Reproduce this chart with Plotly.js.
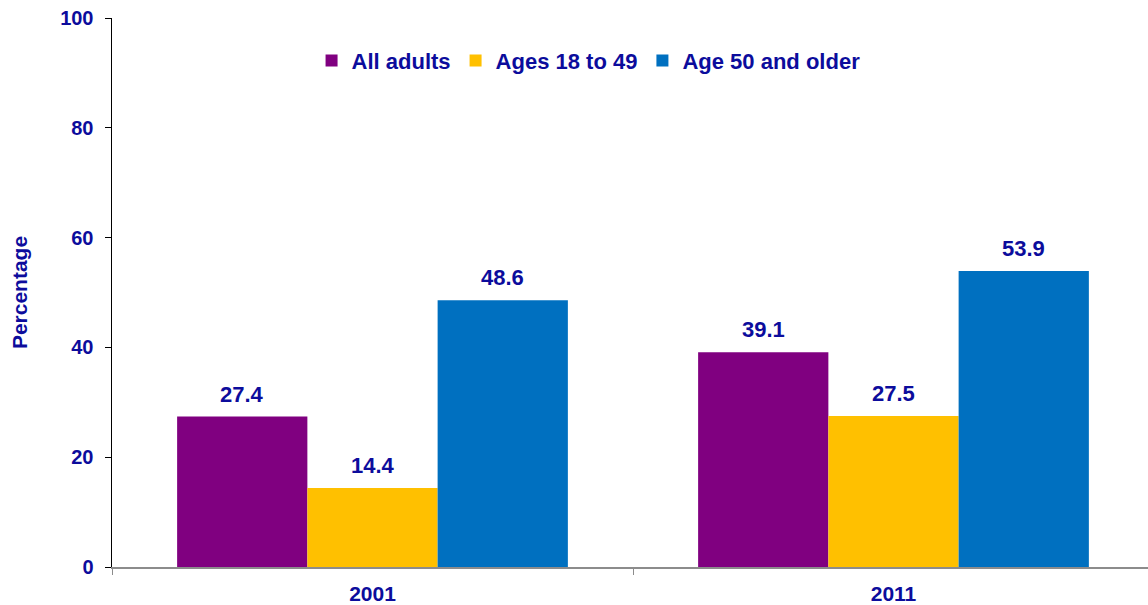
<!DOCTYPE html>
<html>
<head>
<meta charset="utf-8">
<script src="https://cdn.plot.ly/plotly-3.0.1.min.js"></script>
<style>html,body{margin:0;padding:0;background:#fff;}</style>
</head>
<body>
<div id="chart" style="width:1148px;height:605px;"></div>
<script>
const categories = ["2001", "2011"];
const seriesNames = ["All adults", "Ages 18 to 49", "Age 50 and older"];
const allAdults = [27.4, 39.1];
const ages18to49 = [14.4, 27.5];
const age50older = [48.6, 53.9];
const yTicks = [0, 20, 40, 60, 80, 100];

const colors = ["#800080", "#FFC000", "#0070C0"];
const txtColor = "#0C0C9C";
const fontFam = "Liberation Sans, Arial, sans-serif";
const values = [allAdults, ages18to49, age50older];
const mkFont = s => ({family: fontFam, size: s, color: txtColor, weight: "bold"});

const traces = values.map((v, i) => ({
  type: "bar",
  name: seriesNames[i],
  x: categories,
  y: v,
  marker: {color: colors[i]},
  hoverinfo: "skip"
}));

const nS = values.length;
const barW = 0.75 / nS;
const annotations = [];
values.forEach((v, i) => {
  v.forEach((d, c) => {
    annotations.push({
      x: c + (i - (nS - 1) / 2) * barW,
      y: d,
      xref: "x", yref: "y",
      text: d.toFixed(1),
      showarrow: false,
      yanchor: "bottom",
      yshift: 8,
      font: mkFont(22)
    });
  });
});

const layout = {
  width: 1148,
  height: 605,
  margin: {l: 112, r: 0, t: 18, b: 38},
  paper_bgcolor: "#fff",
  plot_bgcolor: "#fff",
  barmode: "group",
  bargap: 0.25,
  bargroupgap: 0,
  showlegend: true,
  annotations: annotations,
  legend: {
    orientation: "h",
    x: 0.46, xanchor: "center",
    y: 0.922, yanchor: "middle",
    font: mkFont(22),
    itemwidth: 30,
    tracegroupgap: 0
  },
  xaxis: {
    type: "category",
    range: [-0.5, 1.4885],
    showline: true,
    linecolor: "#8c8c8c",
    linewidth: 1.5,
    ticks: "outside",
    tickson: "boundaries",
    ticklen: 6,
    tickcolor: "#8c8c8c",
    ticklabelstandoff: 7,
    showgrid: false,
    zeroline: false,
    tickfont: mkFont(21)
  },
  yaxis: {
    range: [0, 100],
    tickvals: yTicks,
    showline: true,
    linecolor: "#000",
    linewidth: 1.5,
    ticks: "outside",
    ticklen: 6,
    tickcolor: "#000",
    ticklabelstandoff: 7,
    showgrid: false,
    zeroline: false,
    tickfont: mkFont(20),
    title: {text: "Percentage", standoff: 27, font: mkFont(21)}
  }
};

Plotly.newPlot("chart", traces, layout, {displayModeBar: false, staticPlot: true});
</script>
</body>
</html>
